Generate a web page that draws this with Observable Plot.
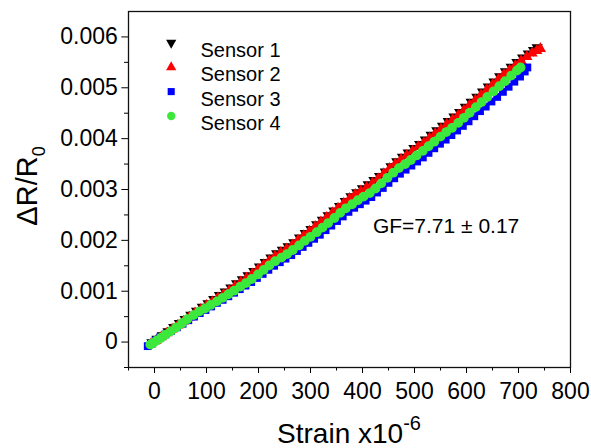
<!DOCTYPE html>
<html><head><meta charset="utf-8">
<script src="https://cdn.jsdelivr.net/npm/d3@7"></script>
<script src="https://cdn.jsdelivr.net/npm/@observablehq/plot@0.6"></script>
<style>body{margin:0;background:#fff} svg{display:block}</style>
</head><body><div id="chart"></div>
<script>
const sensorNames = ["Sensor 1", "Sensor 2", "Sensor 3", "Sensor 4"];
const sensorColors = ["#000000", "#ff0000", "#0000ff", "#3de83d"];
const xTicks = [0, 100, 200, 300, 400, 500, 600, 700, 800];
const xMinorTicks = [-50, 50, 150, 250, 350, 450, 550, 650, 750];
const yTicks = [0, 0.001, 0.002, 0.003, 0.004, 0.005, 0.006];
const yMinorTicks = [-0.0005, 0.0005, 0.0015, 0.0025, 0.0035, 0.0045, 0.0055];
const gfLabel = "GF=7.71 ± 0.17";

// Sensor 1 (black, down triangles)
const s1X = [-5, 5, 15, 26, 37, 48, 59, 70, 81, 92, 103, 114, 125, 136, 147, 158, 169, 180, 191, 202, 213, 224, 235, 246, 257, 268, 279, 290, 301, 312, 323, 334, 345, 356, 367, 378, 389, 400, 411, 422, 433, 444, 455, 466, 477, 488, 499, 510, 521, 532, 543, 554, 565, 576, 587, 598, 609, 620, 631, 642, 653, 664, 675, 686, 697, 708, 719, 729, 736];
const s1Y = [-0.00001, 0.00006, 0.00013, 0.00021, 0.00029, 0.00037, 0.00045, 0.00053, 0.00061, 0.00069, 0.00076, 0.00084, 0.00092, 0.00099, 0.00107, 0.00115, 0.00123, 0.00131, 0.00139, 0.00148, 0.00157, 0.00166, 0.00174, 0.00181, 0.00188, 0.00196, 0.00205, 0.00214, 0.00222, 0.00231, 0.00240, 0.00249, 0.00258, 0.00267, 0.00277, 0.00286, 0.00294, 0.00302, 0.00310, 0.00318, 0.00326, 0.00335, 0.00345, 0.00355, 0.00364, 0.00372, 0.00381, 0.00389, 0.00398, 0.00407, 0.00416, 0.00425, 0.00434, 0.00443, 0.00452, 0.00462, 0.00472, 0.00482, 0.00492, 0.00502, 0.00512, 0.00522, 0.00532, 0.00541, 0.00550, 0.00559, 0.00567, 0.00574, 0.00579];

// Sensor 2 (red, up triangles)
const s2X = [-7, 3, 13, 24, 34, 45, 56, 67, 78, 89, 100, 111, 122, 133, 144, 155, 166, 177, 188, 199, 210, 221, 232, 243, 254, 265, 276, 287, 298, 309, 320, 331, 342, 353, 364, 375, 386, 397, 408, 419, 430, 441, 452, 463, 474, 485, 496, 507, 518, 529, 540, 551, 562, 573, 584, 595, 606, 617, 628, 639, 650, 661, 672, 683, 694, 705, 716, 726, 735, 742];
const s2Y = [-0.00004, 0.00003, 0.00010, 0.00018, 0.00025, 0.00033, 0.00041, 0.00049, 0.00057, 0.00064, 0.00072, 0.00079, 0.00087, 0.00094, 0.00102, 0.00110, 0.00118, 0.00126, 0.00134, 0.00143, 0.00152, 0.00161, 0.00169, 0.00176, 0.00183, 0.00191, 0.00200, 0.00209, 0.00218, 0.00227, 0.00236, 0.00245, 0.00254, 0.00263, 0.00273, 0.00282, 0.00290, 0.00297, 0.00304, 0.00312, 0.00321, 0.00331, 0.00341, 0.00350, 0.00359, 0.00367, 0.00375, 0.00384, 0.00392, 0.00401, 0.00410, 0.00419, 0.00428, 0.00437, 0.00446, 0.00456, 0.00466, 0.00476, 0.00486, 0.00496, 0.00506, 0.00516, 0.00526, 0.00535, 0.00544, 0.00553, 0.00561, 0.00568, 0.00573, 0.00577];

// Sensor 3 (blue, squares)
const s3X = [-13, -6, 2, 11, 21, 32, 43, 54, 65, 76, 87, 98, 109, 120, 131, 142, 153, 164, 175, 186, 197, 208, 219, 230, 241, 252, 263, 274, 285, 296, 307, 318, 329, 340, 351, 362, 373, 384, 395, 406, 417, 428, 439, 450, 461, 472, 483, 494, 505, 516, 527, 538, 549, 560, 571, 582, 593, 604, 615, 626, 637, 648, 659, 670, 681, 692, 703, 712, 717];
const s3Y = [-0.00008, -0.00003, 0.00003, 0.00009, 0.00015, 0.00022, 0.00029, 0.00036, 0.00043, 0.00050, 0.00057, 0.00063, 0.00070, 0.00077, 0.00083, 0.00090, 0.00097, 0.00104, 0.00111, 0.00118, 0.00126, 0.00134, 0.00142, 0.00150, 0.00157, 0.00164, 0.00171, 0.00179, 0.00187, 0.00195, 0.00203, 0.00211, 0.00220, 0.00229, 0.00238, 0.00247, 0.00256, 0.00264, 0.00271, 0.00278, 0.00285, 0.00294, 0.00303, 0.00313, 0.00322, 0.00331, 0.00339, 0.00347, 0.00355, 0.00363, 0.00372, 0.00381, 0.00390, 0.00398, 0.00407, 0.00416, 0.00425, 0.00434, 0.00444, 0.00454, 0.00463, 0.00473, 0.00482, 0.00492, 0.00502, 0.00512, 0.00522, 0.00532, 0.00540];

// Sensor 4 (green, circles)
const s4X = [-8, -3, 4, 12, 20, 31, 42, 53, 63, 75, 86, 97, 108, 120, 131, 142, 153, 165, 176, 187, 199, 210, 221, 232, 244, 255, 266, 278, 289, 300, 312, 323, 334, 346, 357, 368, 380, 391, 402, 414, 425, 436, 448, 459, 470, 482, 493, 504, 516, 527, 538, 550, 561, 572, 584, 595, 606, 618, 629, 640, 652, 663, 674, 686, 697, 704];
const s4Y = [-0.00005, -0.00002, 0.00003, 0.00008, 0.00014, 0.00021, 0.00029, 0.00037, 0.00045, 0.00053, 0.00060, 0.00066, 0.00073, 0.00080, 0.00087, 0.00094, 0.00101, 0.00109, 0.00116, 0.00124, 0.00133, 0.00142, 0.00151, 0.00159, 0.00166, 0.00173, 0.00181, 0.00190, 0.00199, 0.00207, 0.00216, 0.00225, 0.00234, 0.00244, 0.00254, 0.00263, 0.00271, 0.00279, 0.00286, 0.00293, 0.00302, 0.00312, 0.00323, 0.00333, 0.00342, 0.00350, 0.00358, 0.00367, 0.00376, 0.00385, 0.00394, 0.00404, 0.00413, 0.00421, 0.00431, 0.00441, 0.00451, 0.00462, 0.00472, 0.00482, 0.00493, 0.00503, 0.00513, 0.00524, 0.00534, 0.00540];

const series = [[s1X, s1Y], [s2X, s2Y], [s3X, s3Y], [s4X, s4Y]];
const rows = [];
series.forEach(([xs, ys], i) => xs.forEach((x, j) => rows.push({sensor: sensorNames[i], x, y: ys[j]})));

function tri(down) {
  return {draw(context, size) {
    const s = Math.sqrt(size * 4 / Math.sqrt(3));
    const h = s * Math.sqrt(3) / 2;
    const k = down ? 1 : -1;
    context.moveTo(0, k * h * 2 / 3);
    context.lineTo(s / 2, -k * h / 3);
    context.lineTo(-s / 2, -k * h / 3);
    context.closePath();
  }};
}
const symbols = [tri(true), tri(false), "square", "circle"];
const radii = [4.2, 4.2, 4.4, 4.9];
const legendRadii = [3.8, 3.8, 4, 4.2];

const marks = [];
sensorNames.forEach((name, i) => {
  marks.push(Plot.dot(rows.filter(d => d.sensor === name), {x: "x", y: "y", symbol: symbols[i], fill: sensorColors[i], r: radii[i], stroke: "none"}));
});
sensorNames.forEach((name, i) => {
  marks.push(Plot.dot([name], {frameAnchor: "top-left", dx: 42.7, dy: 31.3 + i * 24.4, symbol: symbols[i], fill: sensorColors[i], r: legendRadii[i]}));
  marks.push(Plot.text([name], {frameAnchor: "top-left", dx: 72, dy: 31.3 + i * 24.4, text: d => d, textAnchor: "start", fontSize: 20, fill: "black"}));
});
marks.push(Plot.text([gfLabel], {x: () => 420, y: () => 0.00227, text: d => d, textAnchor: "start", fontSize: 21, fill: "black"}));
marks.push(Plot.axisX(xTicks, {tickSize: 6, tickPadding: 9, fontSize: 23, label: null, stroke: "black", fill: "black"}));
marks.push(Plot.axisX(xMinorTicks, {tickSize: 3.5, tickFormat: () => "", label: null, stroke: "black"}));
marks.push(Plot.axisY(yTicks, {tickSize: 6.7, tickPadding: 4, fontSize: 23, label: null, stroke: "black", fill: "black", tickFormat: d => d === 0 ? "0" : d.toFixed(3)}));
marks.push(Plot.axisY(yMinorTicks, {tickSize: 4, tickFormat: () => "", label: null, stroke: "black"}));
marks.push(Plot.frame({stroke: "#111", strokeWidth: 1.3}));

const svg = Plot.plot({
  width: 591,
  height: 448,
  marginLeft: 128,
  marginRight: 21,
  marginTop: 11,
  marginBottom: 81,
  x: {domain: [-50, 800]},
  y: {domain: [-0.0005, 0.0065]},
  style: {fontFamily: "'Liberation Sans', Arial, sans-serif", fontSize: "23px", color: "black", background: "white"},
  marks
});

const s = d3.select(svg);
const xl = s.append("text").attr("x", 349).attr("y", 443).attr("text-anchor", "middle")
  .attr("font-size", 28).attr("fill", "black").attr("font-family", "'Liberation Sans', Arial, sans-serif");
xl.append("tspan").text("Strain x10");
xl.append("tspan").attr("font-size", 20).attr("dy", -13.5).text("-6");

const yl = s.append("text").attr("transform", "translate(37,186) rotate(-90)").attr("text-anchor", "middle")
  .attr("font-size", 29).attr("fill", "black").attr("font-family", "'Liberation Sans', Arial, sans-serif");
yl.append("tspan").text("ΔR/R");
yl.append("tspan").attr("font-size", 18).attr("dy", 8).text("0");

document.getElementById("chart").appendChild(svg);
</script>
</body></html>
